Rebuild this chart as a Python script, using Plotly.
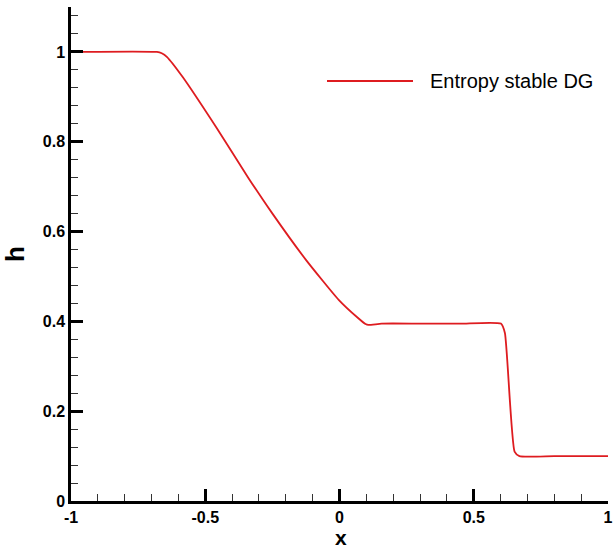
import plotly.graph_objects as go

# Data (dam-break water height)
x_vals = [-1.0, -0.680, -0.662, -0.643, -0.584, -0.458,
          -0.340, -0.251, -0.125, -0.003, 0.068, 0.097, 0.108, 0.157, 0.300,
          0.450, 0.601, 0.616, 0.652, 0.670, 0.800, 1.0]
h_vals = [1.0, 1.0, 0.997, 0.989, 0.944, 0.831,
          0.720, 0.641, 0.537, 0.448, 0.408, 0.394, 0.392, 0.395, 0.395,
          0.395, 0.395, 0.374, 0.110, 0.100, 0.100, 0.100]
series_name = "Entropy stable DG"

x_ticks = [-1, -0.5, 0, 0.5, 1]
x_tick_labels = ["-1", "-0.5", "0", "0.5", "1"]
y_ticks = [0, 0.2, 0.4, 0.6, 0.8, 1]
y_tick_labels = ["0", "0.2", "0.4", "0.6", "0.8", "1"]

RED = "rgb(222,28,32)"
FONT = "Liberation Sans"
L, R, T, B = 71, 5, 7, 49
W, H = 613, 550
PW, PH = W - L - R, H - T - B

fig = go.Figure()
fig.add_trace(go.Scatter(x=x_vals, y=h_vals, mode="lines", name=series_name,
                         line=dict(color=RED, width=1.8, shape="spline", smoothing=0.5),
                         showlegend=False))

axis_common = dict(
    showgrid=False, zeroline=False, showline=True, linecolor="black", linewidth=2.5,
    ticks="inside", ticklen=12, tickwidth=2.5, tickcolor="black",
    ticklabeloverflow="allow", automargin=False,
    tickfont=dict(family=FONT, size=16, color="black", weight="bold"),
)

fig.update_xaxes(
    range=[-1, 1], tickvals=x_ticks, ticktext=x_tick_labels,
    minor=dict(ticks="inside", ticklen=7, tickwidth=1, tickcolor="#333", dtick=0.1),
    **axis_common,
)
fig.update_yaxes(
    range=[0, 1.1], tickvals=y_ticks, ticktext=y_tick_labels,
    minor=dict(ticks="inside", ticklen=7, tickwidth=1, tickcolor="#333", dtick=0.04),
    title=dict(text="h", font=dict(family=FONT, size=26, color="black", weight="bold"),
               standoff=12),
    **axis_common,
)

# x-axis title placed at the bottom edge
fig.add_annotation(text="x", xref="paper", yref="paper", x=0.5 + (340.7 - (L + PW / 2)) / PW,
                   y=-B / PH, xanchor="center", yanchor="bottom", showarrow=False,
                   borderpad=0,
                   font=dict(family=FONT, size=21, color="black", weight="bold"))

# Legend (Tecplot style: long line sample + label)
fig.add_shape(type="line", xref="paper", yref="paper",
              x0=(327 - L) / PW, x1=(413 - L) / PW,
              y0=(H - B - 81) / PH, y1=(H - B - 81) / PH,
              line=dict(color=RED, width=1.8))
fig.add_annotation(text=series_name, xref="paper", yref="paper",
                   x=(428 - L) / PW, y=(H - B - 81) / PH,
                   xanchor="left", yanchor="middle", showarrow=False,
                   font=dict(family=FONT, size=20, color="black"))

fig.update_layout(
    width=W, height=H,
    margin=dict(l=L, r=R, t=T, b=B),
    plot_bgcolor="white", paper_bgcolor="white",
)

fig.write_html("out.html")
